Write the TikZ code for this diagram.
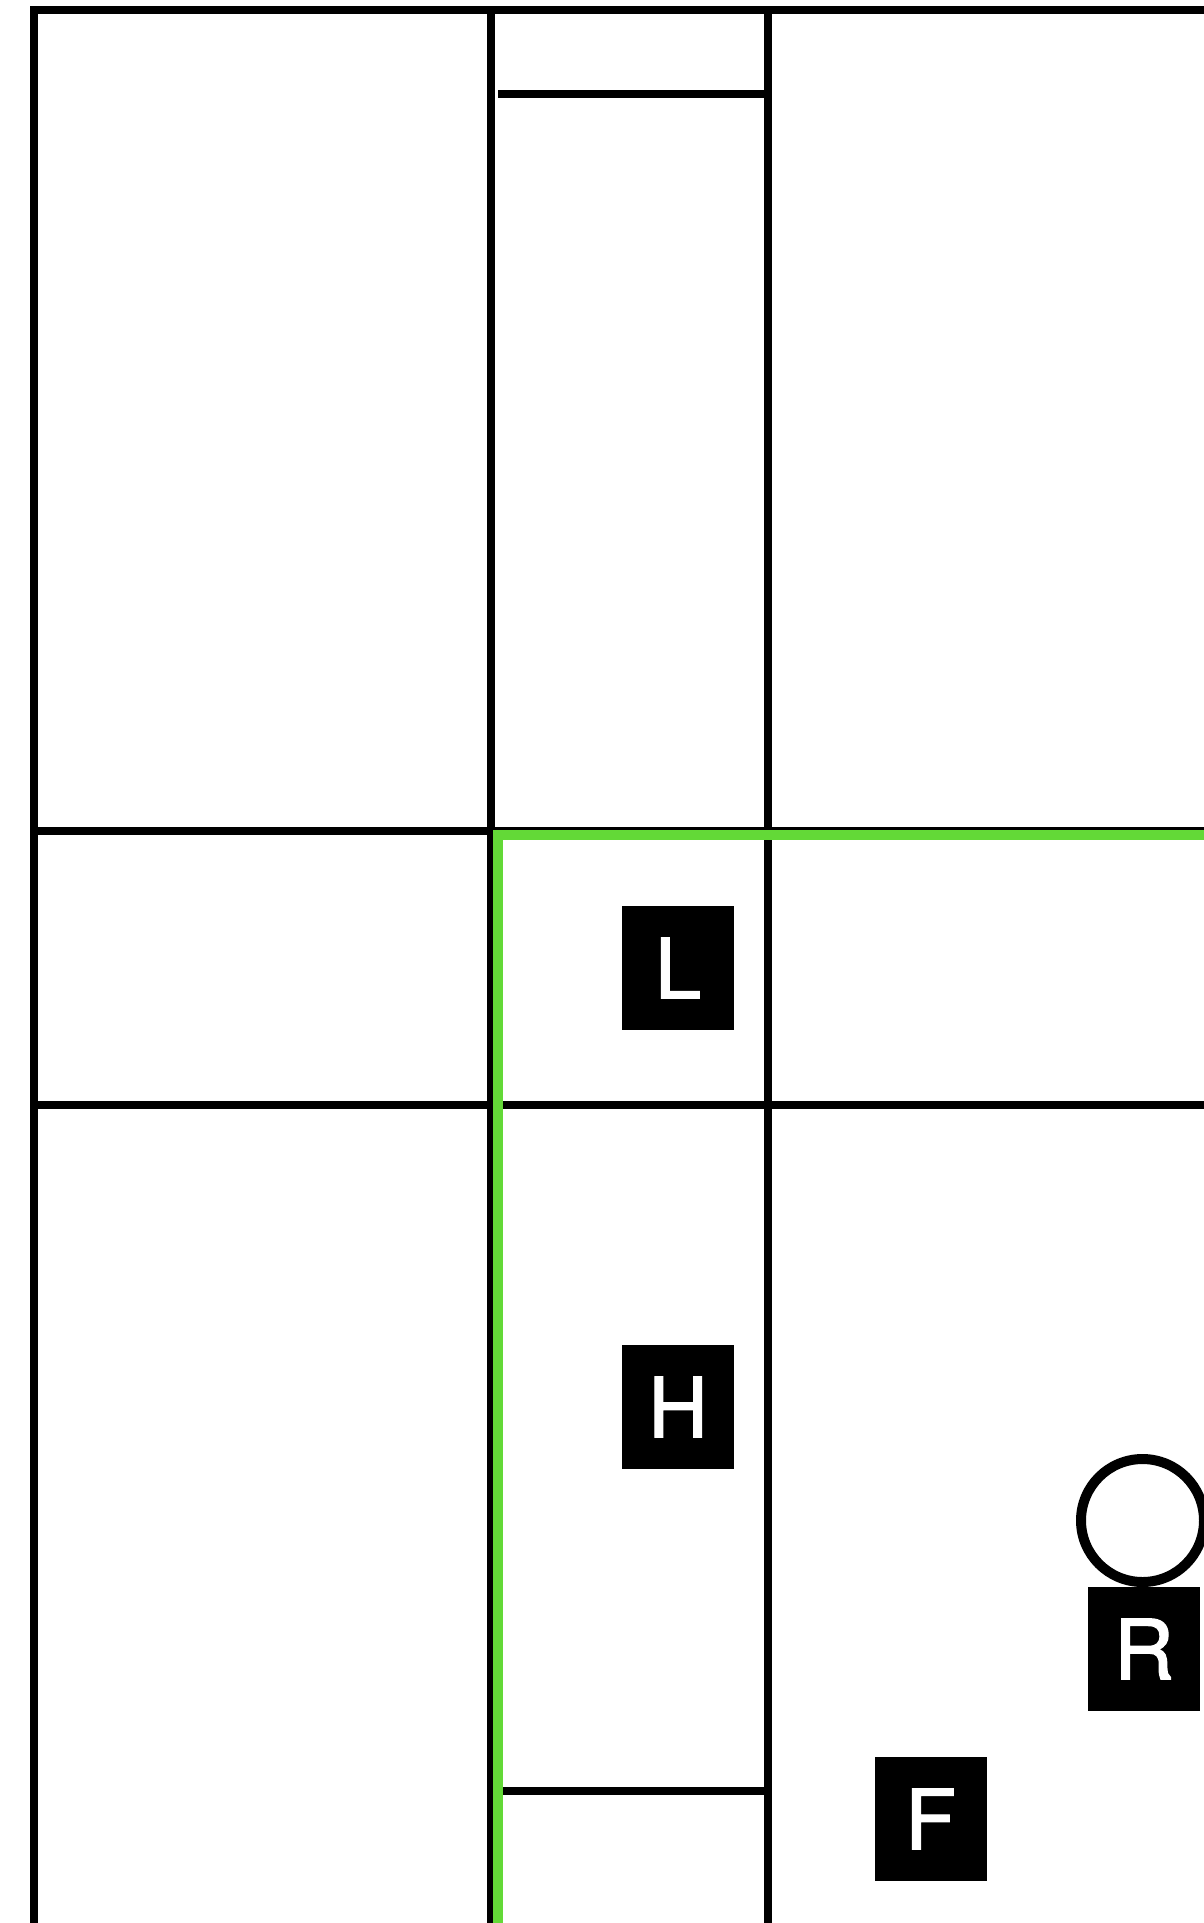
\documentclass[tikz,border=0pt]{standalone}
\usepackage{fontspec}
\setmainfont{TeX Gyre Heros}
\newfontfamily\tagfont[FakeBold=1.6]{TeX Gyre Heros}
\definecolor{grn}{RGB}{99,217,55}
\begin{document}
\begin{tikzpicture}[x=1pt,y=-1pt,
  wall/.style={line width=8pt,black},
  route/.style={line width=10pt,grn,line join=miter},
  tag/.style={fill=black,text=white,minimum width=112pt,minimum height=124pt,inner sep=0pt,font=\tagfont\fontsize{83}{83}\selectfont},
  ring/.style={circle,draw=black,line width=10pt,minimum size=123pt,inner sep=0pt}]
\useasboundingbox (0,0) rectangle (1204,1923);
\clip (0,0) rectangle (1204,1923);
\fill[white] (0,0) rectangle (1204,1923);
% grid walls
\draw[wall] (30,10) -- (1204,10);
\draw[wall] (34,6) -- (34,1923);
\draw[wall] (491,6) -- (491,1923);
\draw[wall] (768,6) -- (768,1923);
\draw[wall] (498,94) -- (764,94);
\draw[wall] (30,831) -- (1204,831);
\draw[wall] (30,1105) -- (1204,1105);
\draw[wall] (503,1791) -- (764,1791);
% green route
\draw[route] (498,1923) -- (498,834.5) -- (1204,834.5);
% tags
\node[tag] (L) at (678,968) {L};
\node[tag] (H) at (678,1407) {H};
\node[tag] (R) at (1144,1649) {R};
\node[tag] (F) at (930.5,1819) {F};
\node[ring] (C) at (1142.5,1520.5) {};
\end{tikzpicture}
\end{document}
